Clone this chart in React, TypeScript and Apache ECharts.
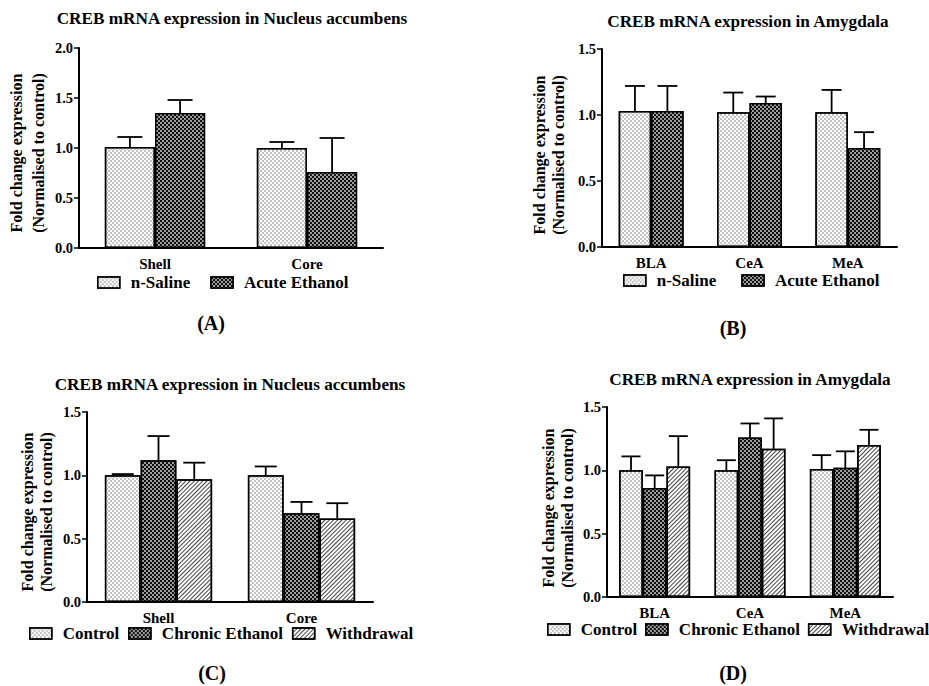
import React, { useEffect, useRef } from "react";
import * as echarts from "echarts";

// ---------- data ----------
const catsNAc = ["Shell", "Core"];
const catsAmy = ["BLA", "CeA", "MeA"];

// Panel A (acute, NAc)
const aSaline = [1.01, 1.0];
const aSalineErr = [0.1, 0.06];
const aEthanol = [1.35, 0.76];
const aEthanolErr = [0.13, 0.34];

// Panel B (acute, amygdala)
const bSaline = [1.03, 1.02, 1.02];
const bSalineErr = [0.19, 0.15, 0.17];
const bEthanol = [1.03, 1.09, 0.75];
const bEthanolErr = [0.19, 0.05, 0.12];

// Panel C (chronic, NAc)
const cControl = [1.0, 1.0];
const cControlErr = [0.01, 0.07];
const cChronic = [1.12, 0.7];
const cChronicErr = [0.19, 0.09];
const cWithdrawal = [0.97, 0.66];
const cWithdrawalErr = [0.13, 0.12];

// Panel D (chronic, amygdala)
const dControl = [1.0, 1.0, 1.01];
const dControlErr = [0.11, 0.08, 0.11];
const dChronic = [0.86, 1.26, 1.02];
const dChronicErr = [0.1, 0.11, 0.13];
const dWithdrawal = [1.03, 1.17, 1.2];
const dWithdrawalErr = [0.24, 0.24, 0.12];

const yTicksA = [0, 0.5, 1.0, 1.5, 2.0];
const yTicksOther = [0, 0.5, 1.0, 1.5];

const titleNAc = "CREB mRNA expression in Nucleus accumbens";
const titleAmy = "CREB mRNA expression in Amygdala";
const yName = "Fold change expression\n(Normalised to control)";

// ---------- styles ----------
const FONT = "Liberation Serif";

const lightStyle = {
  color: "#ffffff",
  borderColor: "#000",
  borderWidth: 1.5,
  decal: {
    symbol: "rect",
    symbolSize: 1,
    color: "#c2c2c2",
    dashArrayX: [
      [2, 2],
      [0, 2, 2, 0],
    ],
    dashArrayY: [2, 0],
  },
};
const darkStyle = {
  color: "#111111",
  borderColor: "#000",
  borderWidth: 1.5,
  decal: {
    symbol: "rect",
    symbolSize: 1,
    color: "#9c9c9c",
    dashArrayX: [
      [2, 2],
      [0, 2, 2, 0],
    ],
    dashArrayY: [2, 0],
  },
};
const hatchStyle = {
  color: "#ffffff",
  borderColor: "#000",
  borderWidth: 1.5,
  decal: {
    symbol: "rect",
    symbolSize: 1,
    color: "#444444",
    dashArrayX: [1, 0],
    dashArrayY: [1, 2],
    rotation: -Math.PI / 4,
  },
};

type Panel = {
  grid: { left: number; top: number; width: number; height: number };
  cats: string[];
  max: number;
  ticks: number[];
  gap: number; // barCategoryGap fraction
  cap: number; // error cap width px
  nameGap: number;
  nameLH: number;
  nameShift: number;
  series: { name: string; values: number[]; errs: number[]; style: any }[];
};

const panels: Panel[] = [
  {
    grid: { left: 79, top: 48, width: 304, height: 200 },
    cats: catsNAc,
    max: 2,
    ticks: yTicksA,
    gap: 0.34,
    cap: 25,
    nameGap: 30,
    nameLH: 22,
    nameShift: 10,
    series: [
      { name: "n-Saline", values: aSaline, errs: aSalineErr, style: lightStyle },
      { name: "Acute Ethanol", values: aEthanol, errs: aEthanolErr, style: darkStyle },
    ],
  },
  {
    grid: { left: 602, top: 49, width: 295, height: 198 },
    cats: catsAmy,
    max: 1.5,
    ticks: yTicksOther,
    gap: 0.34,
    cap: 20,
    nameGap: 34,
    nameLH: 19,
    nameShift: 14,
    series: [
      { name: "n-Saline", values: bSaline, errs: bSalineErr, style: lightStyle },
      { name: "Acute Ethanol", values: bEthanol, errs: bEthanolErr, style: darkStyle },
    ],
  },
  {
    grid: { left: 87, top: 412, width: 286, height: 190 },
    cats: catsNAc,
    max: 1.5,
    ticks: yTicksOther,
    gap: 0.25,
    cap: 22,
    nameGap: 31,
    nameLH: 19,
    nameShift: 10,
    series: [
      { name: "Control", values: cControl, errs: cControlErr, style: lightStyle },
      { name: "Chronic Ethanol", values: cChronic, errs: cChronicErr, style: darkStyle },
      { name: "Withdrawal", values: cWithdrawal, errs: cWithdrawalErr, style: hatchStyle },
    ],
  },
  {
    grid: { left: 607, top: 407, width: 286, height: 190 },
    cats: catsAmy,
    max: 1.5,
    ticks: yTicksOther,
    gap: 0.256,
    cap: 19,
    nameGap: 30,
    nameLH: 19,
    nameShift: 12,
    series: [
      { name: "Control", values: dControl, errs: dControlErr, style: lightStyle },
      { name: "Chronic Ethanol", values: dChronic, errs: dChronicErr, style: darkStyle },
      { name: "Withdrawal", values: dWithdrawal, errs: dWithdrawalErr, style: hatchStyle },
    ],
  },
];

const titles = [
  { text: titleNAc, x: 232, y: 10 },
  { text: titleAmy, x: 748, y: 13 },
  { text: titleNAc, x: 230, y: 376 },
  { text: titleAmy, x: 750, y: 371 },
];

const legends = [
  { left: 97, top: 274, gap: 20 },
  { left: 623, top: 272, gap: 25 },
  { left: 29, top: 625, gap: 9 },
  { left: 547, top: 621, gap: 8 },
];

const panelLabels = [
  { text: "(A)", x: 211, y: 323 },
  { text: "(B)", x: 733, y: 328 },
  { text: "(C)", x: 212, y: 673 },
  { text: "(D)", x: 733, y: 673 },
];

function buildOption() {
  const grid: any[] = [];
  const xAxis: any[] = [];
  const yAxis: any[] = [];
  const series: any[] = [];
  const legend: any[] = [];

  panels.forEach((p, i) => {
    grid.push({ ...p.grid, containLabel: false });
    xAxis.push({
      type: "category",
      gridIndex: i,
      data: p.cats,
      axisLine: { lineStyle: { color: "#000", width: 2 } },
      axisTick: { alignWithLabel: true, length: 5, lineStyle: { color: "#000", width: 1.5 } },
      axisLabel: {
        color: "#000",
        fontFamily: FONT,
        fontWeight: "bold",
        fontSize: 15,
        margin: 8,
      },
    });
    yAxis.push({
      type: "value",
      gridIndex: i,
      min: 0,
      max: p.max,
      interval: 0.5,
      splitLine: { show: false },
      axisLine: { show: true, lineStyle: { color: "#000", width: 2 } },
      axisTick: { show: true, length: 5, lineStyle: { color: "#000", width: 1.5 } },
      axisLabel: {
        color: "#000",
        fontFamily: FONT,
        fontWeight: "bold",
        fontSize: 14.5,
        margin: 6,
        formatter: (v: number) => v.toFixed(1),
      },
      name: yName,
      nameLocation: "middle",
      nameGap: p.nameGap,
      nameTextStyle: {
        color: "#000",
        fontFamily: FONT,
        fontWeight: "bold",
        fontSize: 16,
        lineHeight: p.nameLH,
        padding: [0, p.nameShift, 0, 0],
      },
    });
    const n = p.series.length;
    p.series.forEach((s, k) => {
      series.push({
        type: "bar",
        name: s.name,
        xAxisIndex: i,
        yAxisIndex: i,
        data: s.values,
        barGap: "0%",
        barCategoryGap: `${Math.round(p.gap * 1000) / 10}%`,
        itemStyle: s.style,
        z: 2,
      });
      series.push({
        type: "custom",
        name: s.name,
        xAxisIndex: i,
        yAxisIndex: i,
        z: 3,
        data: s.values.map((v, c) => [c, v, s.errs[c]]),
        encode: { x: 0, y: 1 },
        renderItem: (params: any, api: any) => {
          const c = api.value(0);
          const mean = api.value(1);
          const err = api.value(2);
          const band = api.size([1, 0])[0];
          const barW = (band * (1 - p.gap)) / n;
          const cx = api.coord([c, 0])[0] + (k - (n - 1) / 2) * barW;
          const y0 = api.coord([c, mean])[1];
          const y1 = api.coord([c, mean + err])[1];
          const st = { stroke: "#000", lineWidth: 1.8 };
          return {
            type: "group",
            children: [
              { type: "line", shape: { x1: cx, y1: y0, x2: cx, y2: y1 }, style: st },
              {
                type: "line",
                shape: { x1: cx - p.cap / 2, y1: y1, x2: cx + p.cap / 2, y2: y1 },
                style: st,
              },
            ],
          };
        },
      });
    });
    legend.push({
      data: p.series.map((s) => s.name),
      left: legends[i].left,
      top: legends[i].top,
      width: 400,
      padding: 0,
      itemGap: legends[i].gap,
      itemWidth: 22,
      itemHeight: 11,
      icon: "rect",
      selectedMode: false,
      itemStyle: { borderColor: "#000", borderWidth: 1.5 },
      textStyle: {
        color: "#000",
        fontFamily: FONT,
        fontWeight: "bold",
        fontSize: 17,
        padding: [0, 0, 0, 6],
      },
    });
  });

  const title = titles.map((t) => ({
    text: t.text,
    left: t.x,
    top: t.y,
    padding: 0,
    textAlign: "center",
    textStyle: {
      color: "#000",
      fontFamily: FONT,
      fontWeight: "bold",
      fontSize: 17.2,
    },
  }));

  const graphic = panelLabels.map((l) => ({
    type: "text",
    x: l.x,
    y: l.y,
    style: {
      text: l.text,
      fill: "#000",
      font: `bold 20px ${FONT}`,
      textAlign: "center",
      textVerticalAlign: "middle",
    },
  }));

  return {
    animation: false,
    backgroundColor: "#fff",
    title,
    legend,
    grid,
    xAxis,
    yAxis,
    series,
    graphic,
  };
}

export default function App() {
  const ref = useRef<HTMLDivElement>(null);
  useEffect(() => {
    if (!ref.current) return;
    const chart = echarts.init(ref.current, undefined, { renderer: "svg" });
    chart.setOption(buildOption() as any);
    return () => chart.dispose();
  }, []);
  return (
    <div
      ref={ref}
      style={{ position: "fixed", left: 0, top: 0, width: 929, height: 686 }}
    />
  );
}
